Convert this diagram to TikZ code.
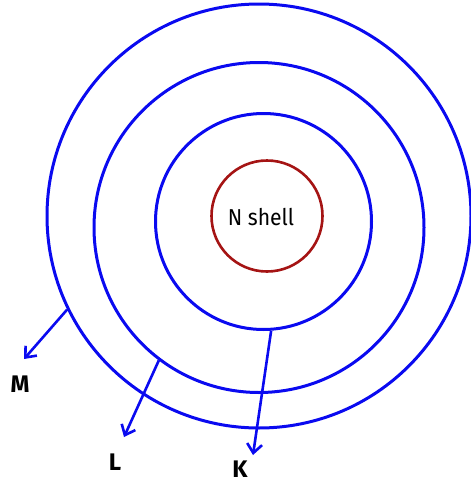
\documentclass[tikz,border=0pt]{standalone}
\usepackage{fontspec}
\setmainfont{Fira Sans}
\usetikzlibrary{arrows.meta}
\definecolor{shellblue}{RGB}{10,10,240}
\definecolor{shellred}{RGB}{165,20,20}
\tikzset{
  shell/.style={circle, draw=shellblue, line width=3pt, inner sep=0pt},
  nshell/.style={circle, draw=shellred, line width=2.6pt, inner sep=0pt},
  pointer/.style={draw=shellblue, line width=2.6pt, -{Straight Barb[length=9pt,width=15pt,line width=2.6pt]}},
  lbl/.style={font=\bfseries\fontsize{24}{28}\selectfont, text=black}
}
\begin{document}
\begin{tikzpicture}[x=1pt,y=-1pt]
\useasboundingbox (0,0) rectangle (471,485);
\node[shell, minimum size=424pt] (outer) at (259,216) {};
\node[shell, minimum size=330pt] (middle) at (259,227.5) {};
\node[shell, minimum size=216pt] (inner) at (263.5,221.5) {};
\node[nshell, minimum size=111pt] (core) at (267,216) {};
\node[font=\fontsize{23}{26}\selectfont, text=black, xscale=0.92] (ntext) at (261,217) {N shell};
\coordinate (mend) at (24,359);
\coordinate (lend) at (124,437);
\coordinate (kend) at (253,455);
\draw[pointer] (outer.206.8) -- (mend);
\draw[pointer] (middle.233.2) -- (lend);
\draw[pointer] (inner.274.5) -- (kend);
\node[lbl] (m) at (20,384) {M};
\node[lbl] (l) at (115,462) {L};
\node[lbl] (k) at (240,469) {K};
\end{tikzpicture}
\end{document}
